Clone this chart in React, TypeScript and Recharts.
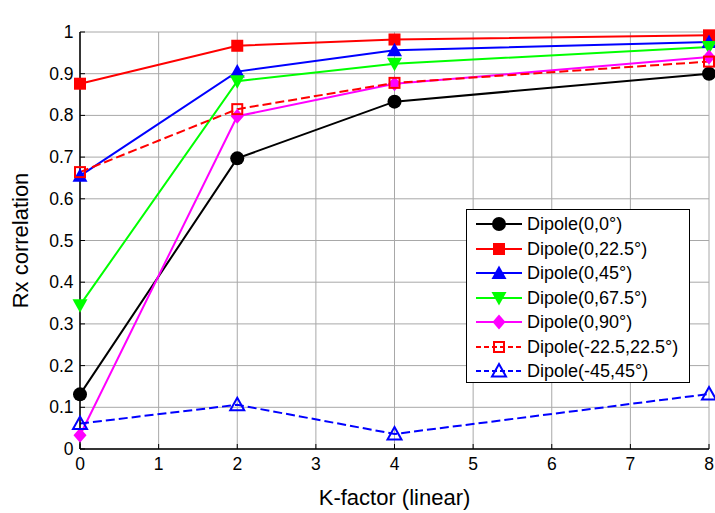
import React from 'react';
import { LineChart, Line, XAxis, YAxis, CartesianGrid, Legend } from 'recharts';

const FONT = '"Liberation Sans", Arial, Helvetica, sans-serif';

// ---- data ----
const kFactor = [0, 2, 4, 8];
const dipole0_0 = [0.131, 0.697, 0.833, 0.9];
const dipole0_22_5 = [0.876, 0.967, 0.982, 0.992];
const dipole0_45 = [0.655, 0.905, 0.956, 0.976];
const dipole0_67_5 = [0.345, 0.882, 0.924, 0.964];
const dipole0_90 = [0.033, 0.798, 0.876, 0.94];
const dipoleM22_5_22_5 = [0.664, 0.815, 0.878, 0.929];
const dipoleM45_45 = [0.061, 0.106, 0.036, 0.132];

const seriesNames = [
  'Dipole(0,0°)',
  'Dipole(0,22.5°)',
  'Dipole(0,45°)',
  'Dipole(0,67.5°)',
  'Dipole(0,90°)',
  'Dipole(-22.5,22.5°)',
  'Dipole(-45,45°)',
];
const seriesValues = [
  dipole0_0,
  dipole0_22_5,
  dipole0_45,
  dipole0_67_5,
  dipole0_90,
  dipoleM22_5_22_5,
  dipoleM45_45,
];

const xTicks = [0, 1, 2, 3, 4, 5, 6, 7, 8];
const yTicks = [0, 0.1, 0.2, 0.3, 0.4, 0.5, 0.6, 0.7, 0.8, 0.9, 1];

const title = 'Rx correlation, co-variance matrix';
const xLabel = 'K-factor (linear)';
const yLabel = 'Rx correlation';

// ---- styles ----
const seriesStyles = [
  { color: '#000000', marker: 'circle', dash: undefined },
  { color: '#ff0000', marker: 'square', dash: undefined },
  { color: '#0000ff', marker: 'triUp', dash: undefined },
  { color: '#00ff00', marker: 'triDown', dash: undefined },
  { color: '#ff00ff', marker: 'diamond', dash: undefined },
  { color: '#ff0000', marker: 'openSquare', dash: '9 4' },
  { color: '#0000ff', marker: 'openTri', dash: '9 4' },
];

const data = kFactor.map((k, i) => {
  const row: Record<string, number> = { k };
  seriesValues.forEach((vals, s) => {
    row['s' + s] = vals[i];
  });
  return row;
});

function Marker({ kind, cx, cy, color }: { kind: string; cx: number; cy: number; color: string }) {
  switch (kind) {
    case 'circle':
      return <circle cx={cx} cy={cy} r={7} fill={color} />;
    case 'square':
      return <rect x={cx - 6} y={cy - 6} width={12} height={12} fill={color} />;
    case 'triUp':
      return <polygon points={`${cx},${cy - 7.5} ${cx + 7.5},${cy + 6} ${cx - 7.5},${cy + 6}`} fill={color} />;
    case 'triDown':
      return <polygon points={`${cx},${cy + 7.5} ${cx + 7.5},${cy - 6} ${cx - 7.5},${cy - 6}`} fill={color} />;
    case 'diamond':
      return <polygon points={`${cx},${cy - 7.5} ${cx + 6.5},${cy} ${cx},${cy + 7.5} ${cx - 6.5},${cy}`} fill={color} />;
    case 'openSquare':
      return <rect x={cx - 5} y={cy - 5} width={10} height={10} fill="none" stroke={color} strokeWidth={2} />;
    case 'openTri':
      return (
        <polygon
          points={`${cx},${cy - 7} ${cx + 7},${cy + 5.5} ${cx - 7},${cy + 5.5}`}
          fill="none"
          stroke={color}
          strokeWidth={2}
        />
      );
    default:
      return null;
  }
}

const BottomTick = (props: any) => {
  const { x, y, payload } = props;
  return (
    <g>
      <line x1={x} y1={y} x2={x} y2={y - 5} stroke="#000" strokeWidth={1} />
      <text x={x} y={y + 21} textAnchor="middle" fontSize={17.5} fontFamily={FONT} fill="#000">
        {String(payload.value)}
      </text>
    </g>
  );
};

const LeftTick = (props: any) => {
  const { x, y, payload } = props;
  return (
    <g>
      <line x1={x} y1={y} x2={x + 5} y2={y} stroke="#000" strokeWidth={1} />
      <text x={x - 6.5} y={y + 6} textAnchor="end" fontSize={17.5} fontFamily={FONT} fill="#000">
        {String(payload.value)}
      </text>
    </g>
  );
};

const TopTick = (props: any) => {
  const { x, y } = props;
  return <line x1={x} y1={y} x2={x} y2={y + 5} stroke="#000" strokeWidth={1} />;
};

const RightTick = (props: any) => {
  const { x, y } = props;
  return <line x1={x} y1={y} x2={x - 5} y2={y} stroke="#000" strokeWidth={1} />;
};

const LegendBox = () => (
  <div
    style={{
      width: 224,
      height: 174,
      boxSizing: 'border-box',
      border: '1px solid #000',
      background: '#fff',
      paddingTop: 2,
      fontFamily: FONT,
    }}
  >
    {seriesNames.map((name, i) => {
      const st = seriesStyles[i];
      return (
        <div key={name} style={{ display: 'flex', alignItems: 'center', height: 24.5 }}>
          <svg width={60} height={24} style={{ display: 'block', flex: 'none' }}>
            <line x1={9} y1={12} x2={55} y2={12} stroke={st.color} strokeWidth={2} strokeDasharray={st.dash ? '5 3' : undefined} />
            <Marker kind={st.marker} cx={32} cy={12} color={st.color} />
          </svg>
          <span style={{ fontSize: 18, color: '#000', whiteSpace: 'nowrap', lineHeight: '24px' }}>{name}</span>
        </div>
      );
    })}
  </div>
);

export default function App() {
  return (
    <div style={{ position: 'absolute', left: 0, top: 0, width: 715, height: 513, background: '#fff', fontFamily: FONT }}>
      <LineChart width={715} height={513} data={data} margin={{ top: 32, right: 6, bottom: 0, left: 0 }}>
        <CartesianGrid stroke="#a8a8a8" strokeWidth={1} />
        <XAxis
          dataKey="k"
          type="number"
          domain={[0, 8]}
          ticks={xTicks}
          interval={0}
          height={64}
          tickSize={0}
          tickMargin={0}
          tickLine={false}
          tick={<BottomTick />}
          axisLine={{ stroke: '#000', strokeWidth: 1.5 }}
          label={{ value: xLabel, position: 'insideBottom', offset: 8, fontSize: 22, fontFamily: FONT, fill: '#000' }}
        />
        <XAxis
          xAxisId="top"
          orientation="top"
          dataKey="k"
          type="number"
          domain={[0, 8]}
          ticks={xTicks}
          interval={0}
          height={0}
          tickSize={0}
          tickMargin={0}
          tickLine={false}
          tick={<TopTick />}
          axisLine={{ stroke: '#000', strokeWidth: 1 }}
          label={{ value: title, position: 'top', offset: 14, fontSize: 17, fontFamily: FONT, fill: '#000' }}
        />
        <YAxis
          type="number"
          domain={[0, 1]}
          ticks={yTicks}
          interval={0}
          width={80}
          tickSize={0}
          tickMargin={0}
          tickLine={false}
          tick={<LeftTick />}
          axisLine={{ stroke: '#000', strokeWidth: 1.5 }}
          label={{
            value: yLabel,
            angle: -90,
            position: 'insideLeft',
            offset: 20,
            fontSize: 22,
            fontFamily: FONT,
            fill: '#000',
            style: { textAnchor: 'middle' },
          }}
        />
        <YAxis
          yAxisId="right"
          orientation="right"
          type="number"
          domain={[0, 1]}
          ticks={yTicks}
          interval={0}
          width={0}
          tickSize={0}
          tickMargin={0}
          tickLine={false}
          tick={<RightTick />}
          axisLine={{ stroke: '#000', strokeWidth: 1 }}
        />
        {seriesNames.map((name, i) => {
          const st = seriesStyles[i];
          return (
            <Line
              key={name}
              name={name}
              dataKey={'s' + i}
              stroke={st.color}
              strokeWidth={2}
              strokeDasharray={st.dash}
              isAnimationActive={false}
              activeDot={false}
              dot={(p: any) => (
                <Marker key={`${name}-${p.index}`} kind={st.marker} cx={p.cx} cy={p.cy} color={st.color} />
              )}
            />
          );
        })}
        <Legend
          layout="vertical"
          align="center"
          verticalAlign="middle"
          wrapperStyle={{ left: 466, top: 209, width: 224, height: 174 }}
          content={() => <LegendBox />}
        />
      </LineChart>
    </div>
  );
}
